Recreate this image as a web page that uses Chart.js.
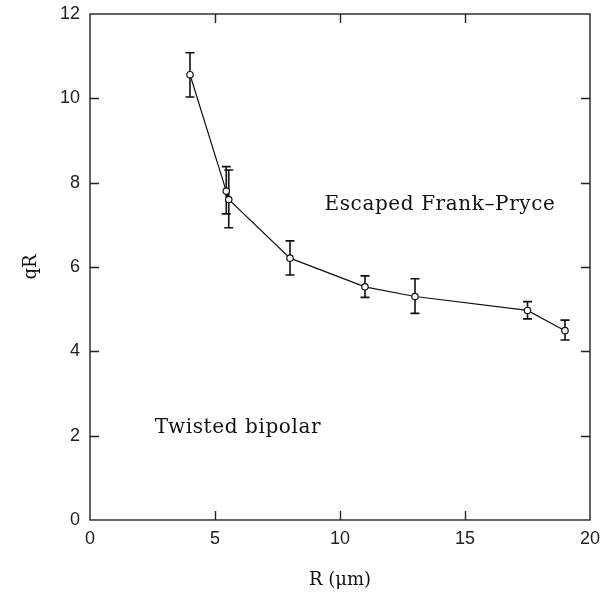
<!DOCTYPE html>
<html>
<head>
<meta charset="utf-8">
<script src="https://cdn.jsdelivr.net/npm/chart.js@4.4.0/dist/chart.umd.min.js"></script>
<style>
  html, body { margin: 0; padding: 0; background: #fff; }
  #wrap { width: 604px; height: 601px; }
</style>
</head>
<body>
<div id="wrap"><canvas id="qr_chart" width="604" height="601"></canvas></div>
<script>
// values
var radius = [4.0, 5.45, 5.55, 8.0, 11.0, 13.0, 17.5, 19.0];
var qR = [10.56, 7.80, 7.60, 6.21, 5.53, 5.30, 4.97, 4.49];
var qR_low = [10.03, 7.26, 6.93, 5.81, 5.28, 4.90, 4.77, 4.27];
var qR_high = [11.08, 8.38, 8.30, 6.62, 5.79, 5.72, 5.18, 4.74];

var x_ticks = [0, 5, 10, 15, 20];
var y_ticks = [0, 2, 4, 6, 8, 10, 12];

var region_labels = ['Escaped Frank\u2013Pryce', 'Twisted bipolar'];
var region_x = [14.0, 5.92];
var region_y = [7.47, 2.18];

var serif = '"DejaVu Serif", "Liberation Serif", serif';
var sans = '"Liberation Sans", Arial, sans-serif';

var points = [];
for (let i = 0; i < radius.length; i++) {
    points.push({ x: radius[i], y: qR[i] });
}

// error bars, frame, inner ticks and region labels
var extras = {
    id: 'extras',
    beforeDatasetsDraw: function (chart) {
        let ctx = chart.ctx;
        let xs = chart.scales.x;
        let ys = chart.scales.y;
        ctx.save();
        ctx.strokeStyle = '#111';
        ctx.lineWidth = 1.6;
        for (let i = 0; i < radius.length; i++) {
            let px = xs.getPixelForValue(radius[i]);
            let top = ys.getPixelForValue(qR_high[i]);
            let bot = ys.getPixelForValue(qR_low[i]);
            ctx.beginPath();
            ctx.moveTo(px, top); ctx.lineTo(px, bot);
            ctx.moveTo(px - 4.5, top); ctx.lineTo(px + 4.5, top);
            ctx.moveTo(px - 4.5, bot); ctx.lineTo(px + 4.5, bot);
            ctx.stroke();
        }
        ctx.restore();
    },
    afterDraw: function (chart) {
        let ctx = chart.ctx;
        let a = chart.chartArea;
        let xs = chart.scales.x;
        let ys = chart.scales.y;
        ctx.save();
        ctx.strokeStyle = '#222';
        ctx.lineWidth = 1.4;
        ctx.strokeRect(a.left, a.top, a.right - a.left, a.bottom - a.top);
        let tl = 9;
        ctx.beginPath();
        for (let i = 1; i < x_ticks.length - 1; i++) {
            let px = Math.round(xs.getPixelForValue(x_ticks[i])) + 0.5;
            ctx.moveTo(px, a.bottom); ctx.lineTo(px, a.bottom - tl);
            ctx.moveTo(px, a.top); ctx.lineTo(px, a.top + tl);
        }
        for (let i = 1; i < y_ticks.length - 1; i++) {
            let py = Math.round(ys.getPixelForValue(y_ticks[i])) + 0.5;
            ctx.moveTo(a.left, py); ctx.lineTo(a.left + tl, py);
            ctx.moveTo(a.right, py); ctx.lineTo(a.right - tl, py);
        }
        ctx.stroke();

        ctx.fillStyle = '#111';
        ctx.font = '20px ' + serif;
        ctx.letterSpacing = '0.6px';
        ctx.textAlign = 'center';
        ctx.textBaseline = 'middle';
        for (let i = 0; i < region_labels.length; i++) {
            ctx.fillText(region_labels[i], xs.getPixelForValue(region_x[i]), ys.getPixelForValue(region_y[i]));
        }
        ctx.restore();
    }
};

var qr_chart = new Chart(document.getElementById('qr_chart').getContext('2d'), {
    type: 'scatter',
    data: {
        datasets: [{
            data: points,
            showLine: true,
            borderColor: '#111',
            borderWidth: 1.2,
            pointRadius: 3.2,
            pointBorderWidth: 1.2,
            pointBackgroundColor: '#fff',
            pointBorderColor: '#111'
        }]
    },
    options: {
        responsive: false,
        animation: false,
        layout: {
            padding: { left: 0, right: 14, top: 14, bottom: 0 }
        },
        plugins: {
            legend: { display: false },
            tooltip: { enabled: false }
        },
        scales: {
            x: {
                type: 'linear',
                min: 0,
                max: 20,
                afterBuildTicks: function (scale) {
                    scale.ticks = x_ticks.map(function (v) { return { value: v }; });
                },
                afterFit: function (scale) {
                    scale.height = 81;
                    scale.paddingLeft = 0;
                    scale.paddingRight = 0;
                },
                grid: { display: false, drawTicks: false },
                border: { display: false },
                ticks: {
                    padding: 8,
                    color: '#222',
                    font: { family: sans, size: 18 }
                },
                title: {
                    display: true,
                    text: 'R (\u03bcm)',
                    color: '#111',
                    font: { family: serif, size: 18 },
                    padding: { top: 0, bottom: 10 }
                }
            },
            y: {
                type: 'linear',
                min: 0,
                max: 12,
                afterBuildTicks: function (scale) {
                    scale.ticks = y_ticks.map(function (v) { return { value: v }; });
                },
                afterFit: function (scale) {
                    scale.width = 90;
                    scale.paddingTop = 0;
                    scale.paddingBottom = 0;
                },
                grid: { display: false, drawTicks: false },
                border: { display: false },
                ticks: {
                    padding: 10,
                    color: '#222',
                    font: { family: sans, size: 18 }
                },
                title: {
                    display: true,
                    text: 'qR',
                    color: '#111',
                    font: { family: serif, size: 18 },
                    padding: { top: 21, bottom: 0 }
                }
            }
        }
    },
    plugins: [extras]
});
</script>
</body>
</html>
